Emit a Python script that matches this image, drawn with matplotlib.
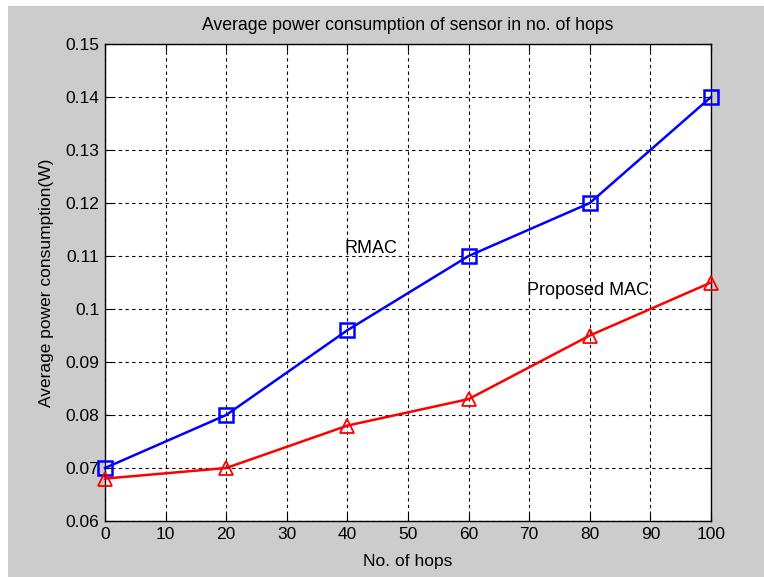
import matplotlib
matplotlib.use("Agg")
import matplotlib.pyplot as plt
from matplotlib.patches import Rectangle

hops = [0, 20, 40, 60, 80, 100]
rmac = [0.070, 0.080, 0.096, 0.110, 0.120, 0.140]
proposed = [0.068, 0.070, 0.078, 0.083, 0.095, 0.105]
xticks = list(range(0, 101, 10))
yticks = [0.06, 0.07, 0.08, 0.09, 0.10, 0.11, 0.12, 0.13, 0.14, 0.15]
ytick_labels = ["0.06", "0.07", "0.08", "0.09", "0.1", "0.11", "0.12", "0.13", "0.14", "0.15"]

plt.rcParams['font.family'] = ['Liberation Sans', 'DejaVu Sans']

fig = plt.figure(figsize=(7.64, 5.77), dpi=100)
fig.patch.set_facecolor('white')
fig.patches.append(Rectangle((8/764, 0), 1 - 8/764, 1 - 6/577, transform=fig.transFigure,
                             facecolor='#cccccc', edgecolor='none', zorder=-10))
ax = fig.add_axes([105/764, 1 - 521/577, (711 - 105)/764, (521 - 44)/577])
ax.set_facecolor('white')

ax.plot(hops, rmac, color='blue', linewidth=1.8, marker='s', markersize=10,
        markerfacecolor='none', markeredgecolor='blue', markeredgewidth=1.8, zorder=3, clip_on=False)
ax.plot(hops, proposed, color='red', linewidth=1.8, marker='^', markersize=10,
        markerfacecolor='none', markeredgecolor='red', markeredgewidth=1.3, zorder=3, clip_on=False)

ax.set_xlim(0, 100)
ax.set_ylim(0.06, 0.15)
ax.set_xticks(xticks)
ax.set_xticklabels([str(v) for v in xticks])
ax.set_yticks(yticks)
ax.set_yticklabels(ytick_labels)
ax.tick_params(direction='in', length=5, labelsize=12.5, colors='black', top=True, right=True,
               labeltop=False, labelright=False, pad=4)
ax.grid(True, color='black', linestyle=(0, (3, 3)), linewidth=0.8)
for s in ax.spines.values():
    s.set_linewidth(1.0)

ax.set_title("Average power consumption of sensor in no. of hops", fontsize=12.7, pad=10)
ax.set_xlabel("No. of hops", fontsize=12.5, labelpad=9)
ax.set_ylabel("Average power consumption(W)", fontsize=12.5, labelpad=8)

ax.text(39.6, 0.1115, "RMAC", fontsize=13, ha='left', va='center')
ax.text(69.6, 0.1035, "Proposed MAC", fontsize=13, ha='left', va='center')

fig.savefig("out.png", dpi=100, facecolor=fig.get_facecolor())
